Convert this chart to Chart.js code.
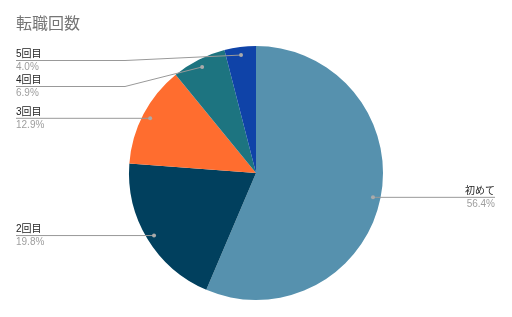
<!DOCTYPE html>
<html>
<head>
<meta charset="utf-8">
<script src="https://cdn.jsdelivr.net/npm/chart.js@4/dist/chart.umd.min.js"></script>
<style>
  html, body { margin: 0; padding: 0; background: #fff; }
  #wrap { width: 512px; height: 317px; position: relative; }
</style>
</head>
<body>
<div id="wrap"><canvas id="pie" width="512" height="317"></canvas></div>
<script>
var title = "転職回数"
var labels = ["初めて", "2回目", "3回目", "4回目", "5回目"]
var values = [56.4, 19.8, 12.9, 6.9, 4.0]
var colors = ["#5691ae", "#01405e", "#ff6d2f", "#1d7480", "#0f43a8"]

var fontFam = '"Liberation Sans", Arial, "Noto Sans CJK JP", sans-serif'

// draws the title and the callout labels with leader lines
const calloutPlugin = {
    id: 'callouts',
    afterDraw(chart) {
        const ctx = chart.ctx
        const meta = chart.getDatasetMeta(0)
        const total = values.reduce((a, b) => a + b, 0)

        ctx.save()
        ctx.fillStyle = "#757575"
        ctx.font = "16px " + fontFam
        ctx.textBaseline = "middle"
        ctx.textAlign = "left"
        ctx.fillText(title, 16, 25)

        let left = []
        let right = []
        meta.data.forEach((arc, i) => {
            const mid = (arc.startAngle + arc.endAngle) / 2
            const r = arc.outerRadius * 0.94
            const px = arc.x + Math.cos(mid) * r
            const py = arc.y + Math.sin(mid) * r
            const item = { i: i, px: px, py: py, y: py }
            if (px < arc.x) left.push(item)
            else right.push(item)
        })

        // push labels apart so they do not overlap
        function spread(list) {
            list.sort((a, b) => a.py - b.py)
            let last = 34
            list.forEach(it => {
                it.y = Math.max(it.py, last + 26)
                last = it.y
            })
        }
        spread(left)
        spread(right)

        function label(it, side) {
            const pct = (values[it.i] / total * 100).toFixed(1) + "%"
            const tx = side == "left" ? 16 : 495
            ctx.strokeStyle = "#999"
            ctx.lineWidth = 1
            ctx.beginPath()
            if (side == "left") {
                ctx.moveTo(tx, it.y + 0.5)
                if (Math.abs(it.y - it.py) > 1) {
                    ctx.lineTo(125, it.y + 0.5)
                }
                ctx.lineTo(it.px, it.py + 0.5)
            } else {
                ctx.moveTo(it.px, it.py + 0.5)
                if (Math.abs(it.y - it.py) > 1) {
                    ctx.lineTo(387, it.y + 0.5)
                }
                ctx.lineTo(tx, it.y + 0.5)
            }
            ctx.stroke()

            ctx.fillStyle = "#aaa"
            ctx.beginPath()
            ctx.arc(it.px, it.py + 0.5, 2, 0, Math.PI * 2)
            ctx.fill()

            ctx.textAlign = side
            ctx.font = "10px " + fontFam
            ctx.textBaseline = "alphabetic"
            ctx.fillStyle = "#222"
            ctx.fillText(labels[it.i], tx, it.y - 3)
            ctx.textBaseline = "top"
            ctx.fillStyle = "#9e9e9e"
            ctx.fillText(pct, tx, it.y + 2)
        }
        left.forEach(it => label(it, "left"))
        right.forEach(it => label(it, "right"))
        ctx.restore()
    }
}

const chart = new Chart(document.getElementById("pie"), {
    type: "pie",
    data: {
        labels: labels,
        datasets: [{
            data: values,
            backgroundColor: colors,
            borderWidth: 0
        }]
    },
    options: {
        responsive: false,
        animation: false,
        layout: {
            padding: { top: 46, bottom: 17, left: 100, right: 100 }
        },
        plugins: {
            legend: { display: false },
            tooltip: { enabled: false }
        }
    },
    plugins: [calloutPlugin]
})
</script>
</body>
</html>
